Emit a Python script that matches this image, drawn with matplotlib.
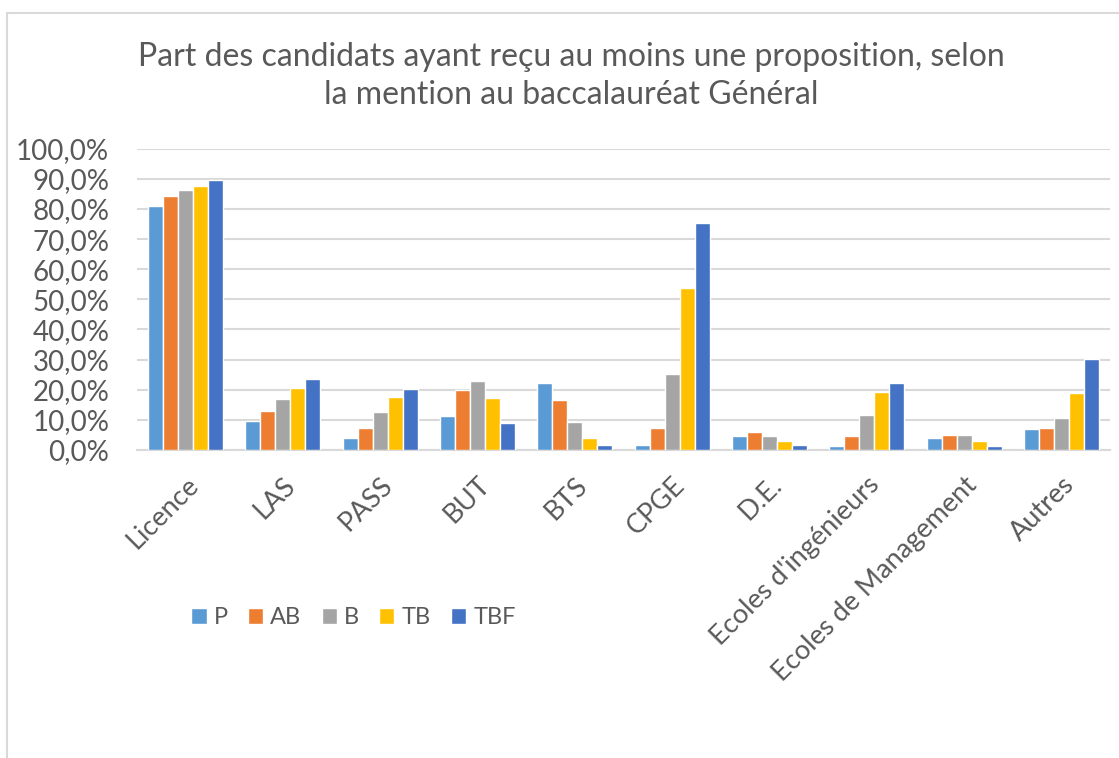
import numpy as np
import matplotlib.pyplot as plt
from matplotlib.patches import Rectangle
from matplotlib.ticker import FuncFormatter

plt.rcParams['font.family'] = ['Lato', 'DejaVu Sans']

categories = ["Licence", "LAS", "PASS", "BUT", "BTS", "CPGE", "D.E.",
              "Ecoles d'ingénieurs", "Ecoles de Management", "Autres"]
mentions = ["P", "AB", "B", "TB", "TBF"]
colors = ["#5B9BD5", "#ED7D31", "#A5A5A5", "#FFC000", "#4472C4"]

# share of candidates with at least one offer, in %
P = [81.1, 9.6, 3.9, 11.2, 22.2, 1.7, 4.8, 1.3, 4.0, 7.0]
AB = [84.2, 13.1, 7.4, 20.0, 16.6, 7.4, 5.9, 4.8, 5.1, 7.4]
B = [86.2, 16.9, 12.7, 23.0, 9.3, 25.3, 4.8, 11.6, 5.1, 10.5]
TB = [87.7, 20.7, 17.7, 17.3, 3.9, 53.7, 3.1, 19.2, 3.1, 18.8]
TBF = [89.6, 23.5, 20.4, 8.8, 1.7, 75.4, 1.7, 22.2, 1.3, 30.3]
series = [P, AB, B, TB, TBF]

grey = "#595959"
grid = "#d9d9d9"

fig = plt.figure(figsize=(11.19, 7.58), dpi=100)
fig.patch.set_facecolor("white")

# chart frame
fig.add_artist(Rectangle((7 / 1119, -0.05), 1.2, 1 - 13 / 758 + 0.05,
                         transform=fig.transFigure, fill=False,
                         edgecolor=grid, lw=1.5))

ax = fig.add_axes([137 / 1119, 1 - 450 / 758, 973 / 1119, (450 - 148.7) / 758])

x = np.arange(len(categories))
pitch = 0.154
for k, (vals, col, name) in enumerate(zip(series, colors, mentions)):
    ax.bar(x + (k - 2) * pitch, np.array(vals) / 100, width=pitch,
           color=col, edgecolor="white", linewidth=1.0, label=name, zorder=3)

ax.set_xlim(-0.5, len(categories) - 0.5)
ax.set_ylim(0, 1.0)
ax.set_yticks(np.arange(0, 1.01, 0.1))
ax.yaxis.set_major_formatter(FuncFormatter(lambda v, _: f"{v * 100:.1f}%".replace(".", ",")))
ax.grid(axis="y", color=grid, lw=1.5, zorder=0)
for s in ["top", "right", "left"]:
    ax.spines[s].set_visible(False)
ax.spines["bottom"].set_color(grid)
ax.spines["bottom"].set_linewidth(1.5)
ax.tick_params(axis="y", length=0, labelsize=20, labelcolor=grey, pad=20)
ax.tick_params(axis="x", length=0, labelsize=19.5, labelcolor=grey, pad=16)
ax.set_xticks(x)
ax.set_xticklabels(categories, rotation=45, ha="right", rotation_mode="anchor")

fig.text(571 / 1119, 1 - 76 / 758, "Part des candidats ayant reçu au moins une proposition, selon\n"
         "la mention au baccalauréat Général", ha="center", va="center",
         fontsize=23, color=grey, linespacing=1.3)

fig.legend(loc="center left", bbox_to_anchor=(170 / 1119, 1 - 618 / 758), ncol=5,
           frameon=False, fontsize=17, labelcolor=grey, handlelength=0.65,
           handleheight=0.65, handletextpad=0.3, columnspacing=0.85)

fig.savefig("out.png", dpi=100, facecolor="white")
